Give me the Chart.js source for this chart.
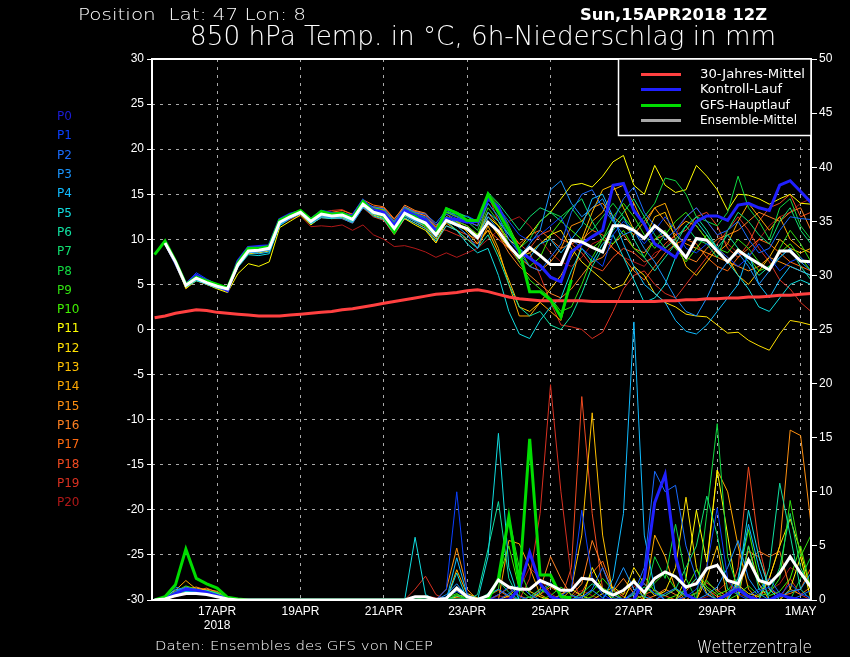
<!DOCTYPE html>
<html>
<head>
<meta charset="utf-8">
<script src="https://cdn.jsdelivr.net/npm/chart.js@4.4.0/dist/chart.umd.min.js"></script>
<style>
  html, body { margin: 0; padding: 0; background: #000; }
  #c { display: block; }
</style>
</head>
<body>
<canvas id="c" width="850" height="657" style="width:850px;height:657px"></canvas>
<script>
// time steps in hours after 15APR2018 12Z
const hours = [0,6,12,18,24,30,36,42,48,54,60,66,72,78,84,90,96,102,108,114,120,126,132,138,144,150,156,162,
  168,174,180,186,192,198,204,210,216,222,228,234,240,246,252,258,264,270,276,282,288,294,300,306,312,318,324,330,
  336,342,348,354,360,366,372,378];

const xTickHours = [36, 84, 132, 180, 228, 276, 324, 372];
const xTickLabels = [['17APR', '2018'], '19APR', '21APR', '23APR', '25APR', '27APR', '29APR', '1MAY'];

// 850 hPa temperature, degC
const climTemp = [1.3,1.5,1.8,2.0,2.2,2.1,1.9,1.8,1.7,1.6,1.5,1.5,1.5,1.6,1.7,1.8,1.9,2.0,2.2,2.3,2.5,2.7,2.9,3.1,3.3,3.5,3.7,3.9,
  4.0,4.1,4.3,4.4,4.2,3.9,3.6,3.4,3.3,3.2,3.2,3.2,3.2,3.2,3.1,3.1,3.1,3.1,3.1,3.1,3.1,3.2,3.2,3.3,3.3,3.4,3.4,3.5,3.5,3.6,3.6,3.7,3.8,3.8,3.9,4.0];
const meanTemp = [null,9.6,7.5,4.9,5.7,5.2,4.8,4.5,7.2,8.7,8.8,9.0,11.9,12.5,13.0,12.0,12.8,12.6,12.7,12.2,13.9,13.0,12.7,11.2,12.9,12.3,11.8,10.5,
  12.1,11.6,11.2,10.2,11.9,10.9,9.3,8.0,9.1,8.2,7.2,7.2,9.9,9.7,9.1,8.6,11.5,11.5,11.0,10.1,11.5,10.6,9.4,8.0,10.1,9.9,8.7,7.5,8.8,8.0,7.3,6.6,8.7,8.7,7.6,7.5];
const ctrlTemp = [null,9.7,7.4,5.0,6.0,5.4,4.9,4.3,7.6,9.1,9.2,9.3,12.2,12.8,13.1,12.2,13.1,12.9,12.8,12.6,14.3,13.2,13.0,11.5,13.2,12.6,12.2,11.0,
  12.3,12.2,11.9,12.0,14.5,13.6,11.0,8.6,7.9,7.1,5.8,5.3,8.6,9.5,10.3,11.0,16.0,16.2,13.2,11.7,9.5,8.8,8.0,10.2,12.0,12.6,12.6,12.1,13.8,14.0,13.5,13.2,16.0,16.5,15.3,14.1];
const gfsTemp = [8.3,9.8,7.6,5.0,5.8,5.4,5.0,4.6,7.4,9.0,9.0,9.2,12.1,12.7,13.2,12.2,13.1,12.8,12.9,12.4,14.2,13.0,12.6,10.8,12.8,12.5,11.6,10.6,
  13.4,12.9,12.1,12.1,15.0,13.0,11.0,8.8,4.2,4.2,3.3,1.4,5.5];
const p1Temp = [null,9.5,7.6,5.1,6.3,5.6,5.0,4.6,7.4,9.0,9.1,9.2,12.1,12.7,13.2,12.3,13.0,12.9,13.0,12.5,14.4,13.4,13.1,11.8,13.4,12.8,12.5,11.6,
  12.8,12.3,12.6,12.0,14.8,13.5,12.0,10.5,9.8,10.5,11.5,12.5,10.0,9.0,8.0,7.0,10.5,12.0,11.0,9.5,11.0,12.5,11.0,9.0,8.5,9.5,9.0,8.0,7.0,8.0,9.5,8.0,6.5,7.5,8.0,7.0];
const p2Temp = [null,9.6,7.7,4.8,5.9,5.3,4.7,4.4,7.3,8.8,8.9,9.1,12.0,12.6,13.1,12.1,13.2,12.8,12.9,12.3,14.1,13.6,13.4,12.0,13.6,13.0,12.8,11.8,
  13.2,12.6,12.0,11.5,14.0,12.5,10.0,8.5,7.0,6.5,8.0,9.5,13.0,15.0,15.5,13.5,12.0,14.5,15.8,13.0,11.5,10.0,11.0,12.5,13.5,12.0,10.5,11.0,12.0,10.0,8.5,9.0,11.0,12.5,12.3,12.2];
const p3Temp = [null,9.4,7.3,4.9,5.6,5.1,4.9,4.7,7.0,8.5,8.6,8.8,11.7,12.3,12.8,11.8,12.5,12.4,12.3,11.8,13.5,12.8,12.5,11.0,12.6,12.0,11.5,10.2,
  12.0,11.5,10.5,9.0,12.5,11.0,9.5,8.0,9.5,11.0,15.5,16.5,14.0,12.5,13.5,14.5,12.0,10.5,11.0,9.0,7.5,5.5,3.5,2.0,1.5,3.5,6.0,7.5,8.5,7.0,5.0,6.5,8.0,9.0,7.5,6.5];
const p4Temp = [null,9.6,7.5,5.0,5.5,5.0,4.6,4.3,7.1,8.6,8.4,8.6,11.5,12.3,12.9,11.9,12.6,12.5,12.6,12.0,13.8,12.9,12.4,10.8,12.7,12.1,11.6,10.3,
  12.5,11.8,11.0,10.0,13.0,12.0,10.5,9.0,8.0,9.5,10.0,8.5,10.0,11.5,14.5,15.0,12.5,9.5,7.0,5.0,4.0,3.0,1.0,-0.2,-0.5,0.5,2.0,3.5,5.0,8.5,5.0,3.5,5.5,7.0,6.5,6.0];
const p5Temp = [null,9.5,7.4,4.7,5.4,5.1,4.7,4.4,6.9,8.3,8.2,8.4,11.6,12.4,12.9,11.7,12.4,12.3,12.5,11.9,13.6,12.6,12.2,10.6,12.4,11.8,11.2,9.8,
  11.5,11.0,9.5,8.5,9.0,6.0,2.0,-0.5,-1.0,1.0,2.5,3.5,6.5,9.0,7.5,9.5,10.5,8.0,5.5,3.0,3.5,5.0,8.0,10.0,12.0,10.5,9.0,7.5,6.0,4.5,2.5,2.0,3.5,5.0,5.5,5.0];
const p6Temp = [null,9.7,7.6,5.0,5.8,5.3,4.9,4.6,7.2,8.7,8.8,9.0,11.9,12.5,13.0,12.0,12.9,12.7,12.8,12.2,14.0,13.1,12.8,11.3,13.0,12.4,11.9,10.6,
  12.0,11.0,10.0,9.0,10.5,8.0,5.0,2.5,1.5,2.0,0.5,0.0,1.5,4.0,7.0,9.0,11.0,12.5,10.0,8.0,6.5,8.0,9.5,11.5,12.5,11.0,9.0,10.5,9.0,7.5,6.0,7.0,8.0,9.0,7.0,5.5];
const p7Temp = [null,9.6,7.5,4.9,5.7,5.2,4.8,4.5,7.3,8.9,9.0,9.2,12.1,12.6,13.2,12.2,13.0,12.8,12.9,12.4,14.2,13.3,13.0,11.6,13.3,12.8,12.3,11.0,
  13.5,13.0,12.5,12.0,15.2,14.0,12.5,11.0,12.5,13.5,13.0,12.0,13.5,14.5,12.0,10.0,11.5,13.0,14.5,12.5,10.5,9.0,10.0,11.5,10.0,9.5,8.0,11.0,13.0,12.0,10.5,9.5,12.0,13.5,11.0,9.5];
const p8Temp = [null,9.5,7.4,4.8,5.6,5.1,4.8,4.5,7.1,8.6,8.7,8.9,11.8,12.4,12.9,11.9,12.7,12.5,12.6,12.1,13.8,12.9,12.6,11.1,12.8,12.2,11.7,10.4,
  13.0,12.5,12.0,11.0,14.0,12.5,10.5,9.0,10.0,12.0,13.0,12.5,13.5,12.0,11.0,12.5,14.0,12.5,11.0,12.5,14.0,16.8,16.5,15.0,12.5,12.0,11.5,13.0,17.0,13.5,12.0,10.0,13.5,14.5,11.5,10.0];
const p9Temp = [null,9.6,7.6,5.0,5.8,5.3,4.9,4.6,7.3,8.8,8.9,9.1,12.0,12.6,13.1,12.1,12.9,12.7,12.8,12.3,14.0,13.1,12.9,11.4,13.1,12.5,12.0,10.7,
  12.5,12.0,11.5,10.5,13.5,12.0,9.5,7.5,5.5,4.5,3.5,2.0,2.5,5.0,8.0,10.0,12.5,14.0,12.5,10.5,9.0,10.5,12.0,13.0,11.5,10.0,9.0,8.5,10.0,9.0,7.5,6.5,9.0,11.0,9.5,7.5];
const p10Temp = [null,9.7,7.5,4.9,5.7,5.3,4.8,4.5,7.4,9.0,9.1,9.3,12.2,12.7,13.1,12.2,13.0,12.9,13.0,12.5,14.3,13.5,13.3,11.9,13.5,12.9,12.4,11.2,
  13.0,12.8,12.5,11.8,15.0,13.8,11.5,9.0,7.0,8.0,10.5,12.0,11.0,10.0,9.0,10.0,9.5,11.0,9.0,8.0,10.0,11.0,9.0,7.5,9.0,10.5,8.5,7.5,9.0,8.0,6.5,7.0,8.5,9.5,8.0,6.5];
const p11Temp = [null,9.4,7.2,4.6,5.4,5.0,4.5,4.1,6.2,7.3,7.0,7.5,11.3,12.0,12.7,11.6,12.5,12.3,12.4,11.9,13.6,12.7,12.3,10.8,12.3,11.6,11.0,9.6,
  12.0,11.5,11.0,10.5,12.5,11.5,10.0,9.0,10.5,12.0,13.0,14.5,16.0,16.2,15.8,17.0,18.6,19.3,16.0,15.0,18.2,16.0,15.2,15.5,18.2,17.0,15.5,13.2,15.0,14.9,14.5,13.9,14.5,15.0,14.0,13.9];
const p12Temp = [null,9.5,7.4,4.8,5.6,5.2,4.7,4.4,7.0,8.4,8.5,8.7,11.6,12.3,12.9,11.8,12.6,12.4,12.5,12.0,13.7,12.8,12.5,11.0,12.6,12.0,11.4,10.0,
  12.2,11.8,11.0,10.0,12.0,10.5,9.0,8.0,8.5,9.5,10.5,11.0,9.0,7.5,6.5,5.5,4.5,5.0,7.0,6.0,4.0,3.0,2.5,1.7,1.5,1.4,0.5,-0.4,-0.3,-1.2,-1.8,-2.3,-0.5,1.0,0.8,0.5];
const p13Temp = [null,9.6,7.6,4.9,5.7,5.2,4.8,4.5,7.1,8.7,8.8,9.0,11.9,12.6,13.2,12.1,12.9,12.8,12.9,12.4,14.1,13.2,12.9,11.3,13.0,12.4,11.9,10.4,
  12.5,12.0,10.8,9.5,11.0,8.5,5.5,2.5,2.0,3.0,4.5,6.0,8.0,10.0,13.0,15.5,16.0,13.5,11.0,10.0,12.5,13.0,10.0,7.0,6.0,7.5,9.0,8.0,6.0,5.0,6.5,8.0,10.0,9.0,8.5,9.0];
const p14Temp = [null,9.8,7.7,4.5,5.5,5.0,4.6,4.2,7.0,8.5,8.6,8.8,11.8,12.5,13.0,12.0,12.8,12.6,12.7,12.2,14.0,13.0,12.7,11.2,12.9,12.3,11.8,10.3,
  11.8,11.0,10.0,9.0,11.5,9.0,5.0,1.5,1.5,3.0,2.0,1.0,5.5,9.5,12.0,13.0,15.5,16.0,14.0,11.5,13.5,14.0,11.0,12.0,11.5,10.0,8.5,9.5,12.0,14.0,12.5,11.0,12.5,10.0,9.0,8.5];
const p15Temp = [null,9.7,7.6,4.7,5.6,5.1,4.7,4.3,7.2,8.7,8.8,9.0,11.9,12.5,13.1,12.1,13.0,12.8,12.8,12.4,14.1,13.3,13.2,11.8,13.6,13.0,12.6,11.3,
  12.8,12.0,11.5,10.5,13.0,11.5,9.5,8.0,7.0,6.5,7.5,9.0,11.5,12.0,13.5,14.0,12.5,11.5,10.5,12.0,13.5,12.0,10.5,9.5,9.0,8.5,8.0,7.5,7.0,6.5,7.0,8.0,7.5,7.0,6.5,6.0];
const p16Temp = [null,9.6,7.5,4.8,5.7,5.2,4.8,4.4,7.1,8.6,8.7,8.9,11.8,12.4,13.0,12.0,12.8,12.7,12.7,12.2,14.0,13.6,13.5,12.2,13.8,13.2,12.9,11.6,
  12.5,12.0,11.0,10.0,12.0,10.5,8.5,7.0,6.0,5.0,4.0,3.5,4.5,6.0,7.5,8.0,9.5,10.5,9.0,8.5,10.0,10.5,9.0,8.0,7.5,9.0,10.0,10.5,11.0,12.0,13.0,12.5,12.0,13.0,13.5,11.0];
const p17Temp = [null,9.5,7.4,4.7,5.5,5.1,4.7,4.4,7.2,8.8,8.9,9.0,11.9,12.5,13.1,12.1,12.9,13.0,13.2,12.8,14.4,13.8,13.6,12.3,13.6,13.1,12.8,11.4,
  13.0,12.5,12.0,11.5,14.5,13.0,11.0,9.5,10.5,11.0,10.0,9.0,9.5,10.0,11.0,10.5,9.0,8.0,6.5,5.5,7.0,8.5,9.5,10.0,9.5,8.0,7.0,6.5,8.0,9.0,10.0,9.5,8.5,7.5,7.0,6.5];
const p18Temp = [null,9.6,7.5,4.8,5.6,5.1,4.8,4.5,7.1,8.6,8.7,8.9,11.7,12.3,12.8,11.7,12.4,12.3,12.3,11.8,13.5,12.5,12.1,10.5,12.3,11.8,11.2,9.6,
  11.5,11.0,10.5,10.0,11.0,10.0,9.0,7.5,9.0,10.5,11.0,10.0,9.5,8.5,7.0,6.5,8.0,9.0,8.5,7.5,8.0,9.5,10.5,11.0,12.5,13.0,11.5,9.0,8.0,9.5,12.0,13.5,14.0,15.0,12.5,13.0];
const p19Temp = [null,9.7,7.6,4.9,5.7,5.2,4.8,4.5,7.2,8.7,8.8,9.0,11.8,12.4,12.9,11.9,13.0,13.2,13.3,12.7,14.3,13.5,13.3,12.0,13.4,13.0,12.6,11.2,
  11.0,10.5,10.0,9.5,15.0,12.0,10.5,9.5,8.5,6.0,3.0,0.5,0.3,0.0,-1.0,-0.3,2.0,4.5,6.0,6.5,5.0,4.0,3.5,5.0,6.5,8.0,9.5,11.0,12.5,11.0,9.0,7.5,5.5,4.5,3.0,2.0];
const p20Temp = [null,9.5,7.3,4.7,5.5,5.0,4.6,4.3,7.0,8.5,8.6,8.8,11.6,12.2,12.6,11.4,11.5,11.4,11.6,11.0,11.6,10.5,10.0,9.2,9.3,9.0,8.6,8.0,
  8.5,8.0,8.5,9.0,10.0,11.0,12.0,12.5,11.5,10.0,8.5,7.5,7.0,8.0,9.5,10.0,9.0,8.0,7.5,7.0,8.5,9.0,10.5,12.5,13.5,12.0,10.5,9.5,8.5,8.0,10.0,11.5,12.5,13.0,14.0,14.5];

// 6h precipitation, mm
const meanRain = [0,0.1,0.4,0.6,0.6,0.5,0.3,0.1, 0,0,0,0,0,0,0,0,0,0,0,0,0,0,0,0,0,
  0.3,0.3,0.05,0.15,1.1,0.3,0.06,0.4,1.85,1.2,1.0,1.0,1.8,1.4,0.9,0.9,2.0,1.9,0.9,0.46,0.9,1.7,0.7,2.0,2.6,2.15,1.2,1.5,2.9,3.2,1.8,1.5,3.7,1.8,1.5,2.5,4.0,2.5,1.2];
const ctrlRain = [0,0.1,0.6,1.0,0.9,0.7,0.4,0.1, 0,0,0,0,0,0,0,0,0,0,0,0,0,0,0,0,0,
  0,0,0,0,0,0,0,0,0,0,1.0,4.4,1.5,0.3,0,0,0,0,0,0,0,0,2.0,9.0,11.6,4.0,0.5,0,0,0,0.5,1.0,0.3,0,0,0.5,0.2,0,0];
const gfsRain = [0,0.3,1.4,4.7,2.0,1.5,1.1,0.25,0.1, 0,0,0,0,0,0,0,0,0,0,0,0,0,0,0,0,0,0,0,0,0,0,0,
  0,2.0,7.7,1.5,14.9,2.3,2.3,0.3,0.2];
const p1Rain = [0,0.2,0.5,1.0,1.0,0.8,0.5,0.1, 0,0,0,0,0,0,0,0,0,0,0,0,0,0,0,0,0,
  0,0,0,1.0,10.0,0.5,0,0,0.5,1.2,0.3,0,0,0,0.4,1.0,8.3,2.0,0.5,0,0,0.8,1.5,0.6,0,0,0.3,1.0,3.0,8.5,2.0,0.5,0,0.8,1.2,0.4,1.5,0.6,0.2];
const p2Rain = [0,0.1,0.8,1.2,0.9,0.5,0.3,0.1, 0,0,0,0,0,0,0,0,0,0,0,0,0,0,0,0,0,
  0,0,0,0.3,0.8,0.2,0,0,0,0.6,1.4,0.5,0,0,0,0.4,0.2,1.0,3.0,0.5,0,0.6,3.0,11.9,10.0,10.6,5.0,2.0,0.5,0,0.7,1.3,0.4,1.0,2.0,0.6,0,0.4,0.9];
const p3Rain = [0,0.3,1.2,0.9,0.7,0.6,0.4,0.1, 0,0,0,0,0,0,0,0,0,0,0,0,0,0,0,0,0,
  0,0,0,0.5,1.5,0.3,0,0.5,1.0,0.4,0,0,0.8,1.6,0.5,0,0.3,0.9,0.2,1.0,3.0,1.0,0.3,0,0.6,1.1,0.4,0,0.5,1.2,3.0,5.5,2.0,0.6,0,0.3,0.8,1.0,2.5];
const p4Rain = [0,0.2,1.0,0.8,0.6,0.5,0.3,0, 0,0,0,0,0,0,0,0,0,0,0,0,0,0,0,0,0,
  0,0,0,0,3.9,0.5,0,0,0,0,0,0,0,0,0,0,0,0,0,2.0,8.0,25.7,6.0,1.0,0,0,0,0,0,0,0,2.0,7.0,3.0,0,0,0,0,0];
const p5Rain = [0,0.1,0.7,1.1,0.8,0.6,0.5,0.2, 0,0,0,0,0,0,0,0,0,0,0,0,0,0,0,0,0,
  5.8,0.5,0,0,2.5,0,0,4.0,15.4,3.0,0,0,0,0,0,0,0,0,0,0,0,0,0,0,0,0,0,0,0,0,0,1.5,8.3,4.0,1.0,0,0,0,0];
const p6Rain = [0,0.2,0.6,0.9,0.8,0.9,0.6,0.1, 0,0,0,0,0,0,0,0,0,0,0,0,0,0,0,0,0,
  0,0,0,0,0,0,0.5,4.7,9.1,2.0,0,0,0,0,0,0,0,0,0,0,0,0,0,0,0,0,1.0,2.0,1.0,0,0,0,0,0,3.0,10.8,6.0,1.0,0];
const p7Rain = [0,0.1,0.4,0.8,0.7,0.6,0.4,0.1, 0,0,0,0,0,0,0,0,0,0,0,0,0,0,0,0,0,
  0,0,0,0,0.4,0,0,0.6,1.8,0.7,0,0.3,1.0,0.4,0,0,0.6,1.5,0.8,0.2,0,0.5,1.2,0.6,0.4,1.0,3.0,5.0,9.6,6.0,1.0,0.5,5.0,1.0,0.6,3.0,8.0,3.0,1.0];
const p8Rain = [0,0.2,0.5,1.0,0.9,0.8,0.7,0.2, 0,0,0,0,0,0,0,0,0,0,0,0,0,0,0,0,0,
  0,0,0,0,0,0,0,0,0,0,0,0,0,0,0,0,0,0,0,0,0,0,0,4.0,2.0,7.0,2.0,0,8.0,16.3,4.0,1.0,0,0,0,0,0,2.0,4.0];
const p9Rain = [0,0.1,0.6,0.9,0.6,0.5,0.3,0, 0,0,0,0,0,0,0,0,0,0,0,0,0,0,0,0,0,
  0,0,0,0.2,0.6,0,0,0.3,1.0,7.7,3.0,0.5,0,0.4,1.2,0.5,0,0.8,2.0,0.9,0,0,0.5,1.6,2.5,1.0,0.3,0.6,1.8,0.7,0,0.5,1.3,0.4,0.6,2.0,9.2,4.0,6.0];
const p10Rain = [0,0.2,0.8,1.3,1.0,0.7,0.5,0.1, 0,0,0,0,0,0,0,0,0,0,0,0,0,0,0,0,0,
  0,0.3,0,0,0.5,0.2,0,0.4,2.0,5.0,1.0,0.2,0.6,1.4,0.5,0,0,0.3,1.1,0.6,0,0.7,2.2,0.8,0,0.4,1.0,2.8,1.2,0.5,0.9,2.0,6.5,2.0,0.4,0.8,2.0,5.0,1.0];
const p11Rain = [0,0.1,0.4,0.7,0.8,0.6,0.4,0.1, 0,0,0,0,0,0,0,0,0,0,0,0,0,0,0,0,0,
  0,0,0,0,0,0,0,0,0,0,0,0,0,0,0,0,0,3.0,1.0,0,0,2.0,0,0,0,0,2.0,8.3,3.5,12.0,6.0,0,0,0,0,0,1.0,4.0,0];
const p12Rain = [0,0.1,0.5,0.6,0.9,0.8,0.6,0.2, 0,0,0,0,0,0,0,0,0,0,0,0,0,0,0,0,0,
  0,0,0,0,0.3,0.6,0.2,0,0,0.4,1.3,0.8,0.3,0,0.5,1.0,0.4,0,0.6,1.2,0.5,3.0,1.5,0.4,0.8,3.0,9.5,3.0,0.6,0,0.5,1.4,0.6,0.3,2.0,5.0,7.5,4.5,0.8];
const p13Rain = [0,0.2,0.6,1.0,1.1,0.9,0.6,0.1, 0,0,0,0,0,0,0,0,0,0,0,0,0,0,0,0,0,
  0,0,0,0,0,0,0,0,0,0,0,0,0,0,0,1.0,6.0,17.3,6.0,0.5,0,0,0,0,0,0,0,0,2.0,5.0,0,0,5.0,1.5,0,0,0,0,0];
const p14Rain = [0,0.3,0.9,1.8,1.0,0.8,0.7,0.2, 0,0,0,0,0,0,0,0,0,0,0,0,0,0,0,0,0,
  0,0,0,0,2.8,0.5,0,0,0,5.5,5.2,3.0,0.5,0,0,0,0,0,0,0,0,0,0,6.0,4.0,1.0,0,0,3.0,12.0,10.0,5.0,1.0,0,0,0,0,0,0];
const p15Rain = [0,0.2,0.7,1.2,0.9,1.0,0.8,0.2, 0,0,0,0,0,0,0,0,0,0,0,0,0,0,0,0,0,
  0,0,0,1.0,4.8,1.0,0,0,0,0,0,0,0,0,0,0,0,0,0,0,0,0,0,0,0,0,0,0,0,0,0,0,0,0,2.0,5.0,15.7,15.2,7.0];
const p16Rain = [0,0.1,0.6,1.0,1.2,0.9,0.6,0.1, 0,0,0,0,0,0,0,0,0,0,0,0,0,0,0,0,0,
  0,0,0,0.2,0.9,0.3,0,0,0.5,1.1,0.4,0,1.0,4.0,2.0,0.4,1.5,5.5,3.0,0.8,2.0,0.6,0,0.4,1.0,0.5,0,0.7,1.6,0.9,0.3,1.0,3.5,4.5,4.0,4.5,1.0,0.5,1.2];
const p17Rain = [0,0.2,0.5,0.8,0.9,1.1,0.7,0.2, 0,0,0,0,0,0,0,0,0,0,0,0,0,0,0,0,0,
  0,0,0,0,0.2,0,0,0.4,0.9,0.3,0,0,0.5,1.2,0.6,0,0.7,2.5,3.6,1.0,0.3,0,0.5,0.9,0.4,0,0.8,2.0,1.0,0.3,0.5,1.5,4.5,4.0,1.0,0.4,0.6,1.0,3.0];
const p18Rain = [0,0.1,0.4,0.7,0.6,0.5,0.4,0.1, 0,0,0,0,0,0,0,0,0,0,0,0,0,0,0,0,0,
  0,0,0,0,0,0,0,0,0,0,0,0,0,0,0,3.0,18.8,8.0,1.0,0,0,0,0,0,0,0,0,0,0,0,0,3.0,12.3,5.0,1.0,0,0,0,0];
const p19Rain = [0,0.1,0.3,0.6,0.7,0.6,0.3,0, 0,0,0,0,0,0,0,0,0,0,0,0,0,0,0,0,0,
  1.0,2.2,0.5,0,0,0,0,0,0,0,0,2.0,8.0,19.9,10.0,2.0,0,0,0,0,0,0,0,0,0,0,0,0,0,0,0,0,0,0,0,0,2.0,0.5,0];
const p20Rain = [0,0.1,0.4,0.5,0.6,0.5,0.3,0.1, 0,0,0,0,0,0,0,0,0,0,0,0,0,0,0,0,0,
  0,0.4,0.2,0,0.3,0,0,0,0.4,0.2,1.0,3.0,2.0,0.6,0,0.3,0.9,0.4,0,0,0.5,1.3,0.6,0,0.4,1.0,0.5,0,0.3,0.8,1.7,0.6,0.2,0.5,0.9,1.5,3.0,2.5,1.0];

const memberNames = ['P0','P1','P2','P3','P4','P5','P6','P7','P8','P9','P10',
  'P11','P12','P13','P14','P15','P16','P17','P18','P19','P20'];
const memberColors = ['#1c1cd8','#0a40ff','#1a6cff','#1a95ff','#10bbff','#10dde0','#10e0a0','#10e070','#10d840','#30e010','#40f000',
  '#ffff00','#ffe000','#ffc000','#ffa800','#ff9010','#ff8020','#ff6a10','#f04a20','#d83020','#b01818'];
const memberTemps = [null, p1Temp, p2Temp, p3Temp, p4Temp, p5Temp, p6Temp, p7Temp, p8Temp, p9Temp, p10Temp,
  p11Temp, p12Temp, p13Temp, p14Temp, p15Temp, p16Temp, p17Temp, p18Temp, p19Temp, p20Temp];
const memberRains = [null, p1Rain, p2Rain, p3Rain, p4Rain, p5Rain, p6Rain, p7Rain, p8Rain, p9Rain, p10Rain,
  p11Rain, p12Rain, p13Rain, p14Rain, p15Rain, p16Rain, p17Rain, p18Rain, p19Rain, p20Rain];

const CLIM = '#ff4040', CTRL = '#2020ff', GFS = '#00dd00', MEAN = '#ffffff';

function pts(arr) {
  return arr.map((v, i) => ({ x: hours[i], y: v }));
}
function line(arr, color, width, axis, order) {
  return {
    data: pts(arr), borderColor: color, borderWidth: width, yAxisID: axis,
    pointRadius: 0, tension: 0, fill: false, order: order, spanGaps: false
  };
}

const datasets = [];
for (let m = 1; m <= 20; m++) {
  datasets.push(line(memberTemps[m], memberColors[m], 1, 'y', 10));
  datasets.push(line(memberRains[m], memberColors[m], 1, 'y2', 10));
}
datasets.push(line(climTemp, CLIM, 3, 'y', 3));
datasets.push(line(ctrlTemp, CTRL, 3, 'y', 2));
datasets.push(line(ctrlRain, CTRL, 3, 'y2', 2));
datasets.push(line(gfsTemp, GFS, 3, 'y', 1));
datasets.push(line(gfsRain, GFS, 3, 'y2', 1));
datasets.push(line(meanTemp, MEAN, 3, 'y', 0));
datasets.push(line(meanRain, MEAN, 3, 'y2', 0));

function fitText(ctx, txt, x, y, w, font, color) {
  ctx.save();
  ctx.font = font;
  const m = ctx.measureText(txt).width;
  ctx.translate(x, y);
  ctx.scale(w / m, 1);
  ctx.fillStyle = color;
  ctx.textBaseline = 'middle';
  ctx.textAlign = 'left';
  ctx.fillText(txt, 0, 0);
  ctx.restore();
}

const decor = {
  id: 'decor',
  beforeDraw(chart) {
    const ctx = chart.ctx;
    ctx.save();
    ctx.fillStyle = '#000';
    ctx.fillRect(0, 0, chart.width, chart.height);
    ctx.restore();
  },
  afterDraw(chart) {
    const ctx = chart.ctx;
    const a = chart.chartArea;
    ctx.save();
    // frame
    ctx.strokeStyle = '#fff';
    ctx.lineWidth = 2;
    ctx.strokeRect(a.left, a.top, a.right - a.left, a.bottom - a.top);

    // legend box
    ctx.fillStyle = '#000';
    ctx.fillRect(618, 59, a.right - 618, 76);
    ctx.lineWidth = 1.5;
    ctx.strokeRect(618.5, 59, a.right - 618.5, 76.5);
    const leg = [
      ['30-Jahres-Mittel', CLIM, 74.5, 105],
      ['Kontroll-Lauf', CTRL, 89.5, 82],
      ['GFS-Hauptlauf', GFS, 105.5, 90],
      ['Ensemble-Mittel', '#a8a8a8', 120.5, 97]
    ];
    leg.forEach(([t, c, y, w]) => {
      ctx.strokeStyle = c;
      ctx.lineWidth = 3;
      ctx.beginPath();
      ctx.moveTo(641, y);
      ctx.lineTo(681, y);
      ctx.stroke();
      fitText(ctx, t, 700, y, w, '12px "DejaVu Sans"', '#fff');
    });

    // member labels
    memberNames.forEach((n, i) => {
      ctx.font = '12px "DejaVu Sans"';
      ctx.fillStyle = memberColors[i];
      ctx.textBaseline = 'middle';
      ctx.textAlign = 'left';
      ctx.fillText(n, 57, 117 + i * 19.3);
    });

    // header and footer
    fitText(ctx, 'Position  Lat: 47 Lon: 8', 78, 16, 228, '200 16px "DejaVu Sans"', '#fff');
    fitText(ctx, 'Sun,15APR2018 12Z', 580, 16, 187, 'bold 16px "DejaVu Sans"', '#fff');
    fitText(ctx, '850 hPa Temp. in °C, 6h-Niederschlag in mm', 190, 38, 586, '200 26px "DejaVu Sans"', '#fff');
    fitText(ctx, 'Daten: Ensembles des GFS von NCEP', 155, 647, 278, '200 13px "DejaVu Sans"', '#fff');
    fitText(ctx, 'Wetterzentrale', 697, 648, 115, '200 18px "DejaVu Sans"', '#fff');
    ctx.restore();
  }
};

const gridColor = 'rgba(200,200,200,0.85)';

new Chart(document.getElementById('c'), {
  type: 'line',
  data: { datasets: datasets },
  options: {
    responsive: false,
    animation: false,
    devicePixelRatio: 1,
    layout: { padding: { top: 59, left: 0, right: 0, bottom: 0 } },
    plugins: { legend: { display: false }, tooltip: { enabled: false } },
    scales: {
      x: {
        type: 'linear',
        min: -1.5,
        max: 378,
        afterBuildTicks: s => { s.ticks = xTickHours.map(v => ({ value: v })); },
        afterFit: s => { s.height = 57; },
        ticks: {
          color: '#fff',
          font: { family: 'Liberation Sans', size: 12 },
          padding: 4,
          autoSkip: false,
          maxRotation: 0,
          callback: v => xTickLabels[xTickHours.indexOf(v)]
        },
        grid: { color: gridColor, lineWidth: 1, drawTicks: false },
        border: { display: false, dash: [3, 5] }
      },
      y: {
        position: 'left',
        min: -30,
        max: 30,
        afterFit: s => { s.width = 152; },
        ticks: { stepSize: 5, color: '#fff', font: { family: 'Liberation Sans', size: 12 }, padding: 3 },
        grid: { color: gridColor, lineWidth: 1, drawTicks: true, tickColor: '#fff', tickLength: 5 },
        border: { display: false, dash: [3, 5] }
      },
      y2: {
        position: 'right',
        min: 0,
        max: 50,
        afterFit: s => { s.width = 39; },
        ticks: { stepSize: 5, color: '#fff', font: { family: 'Liberation Sans', size: 12 }, padding: 2 },
        grid: { drawOnChartArea: false, drawTicks: true, tickColor: '#fff', tickLength: 6 },
        border: { display: false }
      }
    }
  },
  plugins: [decor]
});
</script>
</body>
</html>
